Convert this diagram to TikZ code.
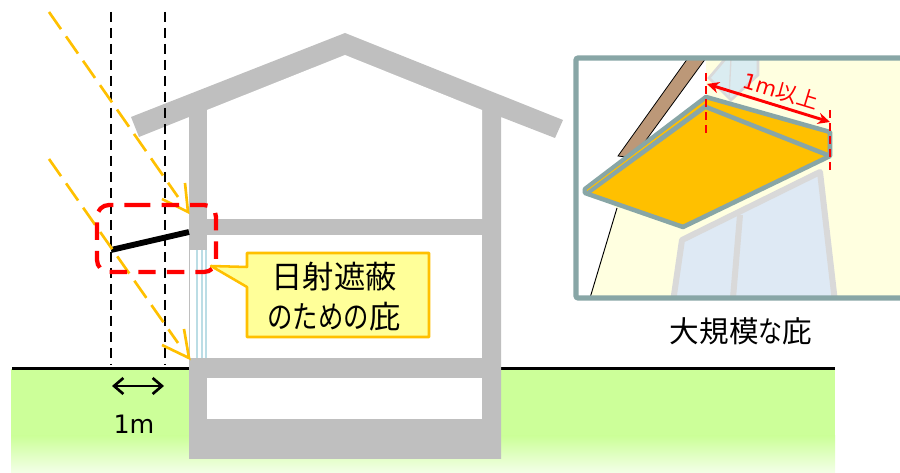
\documentclass[tikz,border=0pt]{standalone}
\usepackage{fontspec}
\usetikzlibrary{arrows.meta,shapes.geometric}
\newfontfamily\cjk{Noto Sans CJK JP}
\newfontfamily\cjkn[FakeStretch=0.81]{Noto Sans CJK JP}
\newfontfamily\lat{DejaVu Sans}
\definecolor{wall}{HTML}{BFBFBF}
\definecolor{sun}{HTML}{FFC000}
\definecolor{lawn}{HTML}{CCFF99}
\definecolor{frameg}{HTML}{88A6A6}
\definecolor{cream}{HTML}{FFFFE0}
\definecolor{winb}{HTML}{DEE9F4}
\definecolor{winf}{HTML}{D9D9D9}
\definecolor{glass}{HTML}{BBDDE5}
\definecolor{brownr}{HTML}{BC9878}
\definecolor{callout}{HTML}{FFFF99}
\tikzset{
  x=0.75pt,y=-0.75pt,
  solid wall/.style={fill=wall,draw=none},
  guide/.style={black,line width=2.2pt,dash pattern=on 7.5pt off 4.5pt},
  ray/.style={sun,line width=2pt,dash pattern=on 15.7pt off 6.6pt},
  barb/.style={sun,line width=2pt},
  redbox/.style={red,line width=3.2pt,dash pattern=on 13.1pt off 8.3pt,rounded corners=9pt},
  reddash/.style={red,line width=1.8pt,dash pattern=on 6pt off 3.8pt},
  label/.style={inner sep=0pt,align=center,text=black},
}
\begin{document}
\begin{tikzpicture}
\useasboundingbox (0,0) rectangle (900,473);
% ground
\fill[lawn] (11,369) rectangle (835,436);
\shade[top color=lawn,bottom color=lawn!22!white] (11,436) rectangle (835,473);
\coordinate (gl) at (12,368.5); \coordinate (gr) at (835,368.5);
\draw[black,line width=1.8pt] (gl) -- (gr);
% house
\fill[solid wall] (131,117) -- (345,33) -- (563,120) -- (555,138) -- (501,117) -- (501,459) -- (189,459) -- (189,358) -- (207,358) -- (207,250) -- (189,250) -- (189,117) -- (139,137) -- cycle;
\fill[white] (207,110) -- (345,55) -- (482,110) -- (482,219) -- (207,219) -- cycle;
\fill[white] (207,235) rectangle (482,358);
\fill[white] (207,378) rectangle (482,419);
% window
\fill[white] (189,250) rectangle (207,358);
\draw[wall,line width=0.6pt] (189.5,250) -- (189.5,358);
\draw[glass,line width=1.1pt] (197,250) -- (197,358);
\draw[glass,line width=0.8pt] (202,250) -- (202,358);
\draw[glass,line width=0.8pt] (206,250) -- (206,358);
% eaves
\coordinate (eo) at (111,250); \coordinate (ei) at (189,232);
\draw[black,line width=4.4pt] (eo) -- (ei);
% guides
\coordinate (g1t) at (111,12); \coordinate (g1b) at (111,365);
\coordinate (g2t) at (165,12); \coordinate (g2b) at (165,365);
\draw[guide] (g1t) -- (g1b);
\draw[guide] (g2t) -- (g2b);
% rays
\coordinate (r1s) at (49,12); \coordinate (r1e) at (178,197); \coordinate (r1t) at (188,212);
\coordinate (r2s) at (49,159); \coordinate (r2e) at (178,343); \coordinate (r2t) at (189,358);
\draw[ray] (r1s) -- (r1e);
\draw[ray] (r2s) -- (r2e);
\draw[barb,line join=miter] (185,183) -- (r1t) -- (162,199);
\draw[barb,line join=miter] (184,329) -- (r2t) -- (162,345);
% red box
\draw[redbox] (121,205) -- (216,205) -- (216,272) -- (97,272) -- (97,205) -- cycle;
% callout
\draw[sun,fill=callout,line width=1.9pt,line join=round] (247,253) -- (429,253) -- (429,337) -- (247,337) -- (247,287) -- (211,266) -- (247,267) -- cycle;
\node[label,font=\cjk\fontsize{23.5pt}{30pt}\selectfont] (callout) at (334,297) {日射遮蔽\\{\cjkn のための}庇};
% width arrow
\coordinate (wl) at (112,386); \coordinate (wr) at (164,386);
\draw[black,line width=2pt,{Straight Barb[length=7pt,width=12pt]}-{Straight Barb[length=7pt,width=12pt]}] (wl) -- (wr);
\node[label,font=\lat\fontsize{19pt}{20pt}\selectfont] (onem) at (134,424) {1m};
% inset
\begin{scope}
\clip (576,59) rectangle (900,298);
\fill[white] (576,59) rectangle (900,298);
\fill[cream] (706,58) -- (900,58) -- (900,298) -- (590,298) -- (617,208) -- (583,190) -- (706,95) -- cycle;
\draw[black,line width=0.7pt] (617,208) -- (590,298);
% roof strip
\fill[brownr,draw=black,line width=0.6pt] (688,58) -- (706,58) -- (633,158) -- (618,156) -- cycle;
% upper window
\filldraw[fill=glass!55!white,draw=winf,line width=2pt] (709,78) -- (726,58) -- (758,58) -- (758,75) -- (731,100) -- cycle;
\draw[winf,line width=1pt] (731,58) -- (729,98);
% lower window
\filldraw[fill=winb,draw=winf,line width=4.5pt,line join=round] (682,240) -- (820,172) -- (835,302) -- (673,302) -- cycle;
\draw[winf,line width=4.5pt] (740,215) -- (733,298);
% awning
\filldraw[fill=sun,draw=frameg,line width=3.4pt,line join=round] (706,97) -- (830,132) -- (830,156) -- (683,227) -- (585,193) -- (585,189) -- cycle;
\draw[frameg,line width=3.4pt] (706,107) -- (830,156);
\draw[frameg,line width=3.6pt] (706,106) -- (587,193);
\draw[frameg,line width=2pt] (706,99) -- (706,107);
\draw[sun,line width=0.7pt] (704,102.5) -- (587,190.5);
\end{scope}
\draw[frameg,line width=3.8pt,rounded corners=1.5pt] (900,58) -- (576,58) -- (576,298) -- (900,298);
% red measurement
\coordinate (m1a) at (706,73); \coordinate (m1b) at (706,134);
\coordinate (m2a) at (830,110); \coordinate (m2b) at (830,170);
\draw[reddash] (m1a) -- (m1b);
\draw[reddash] (m2a) -- (m2b);
\coordinate (aa) at (707,84); \coordinate (ab) at (830,122);
\draw[red,line width=2.2pt,{Stealth[length=9pt,width=8.5pt]}-{Stealth[length=9pt,width=8.5pt]}] (aa) -- (ab);
\node[label,text=red,rotate=-17,font=\cjk\fontsize{16pt}{18pt}\selectfont] (ml) at (781,91) {{\lat 1m}以上};
\node[label,font=\cjk\fontsize{22.2pt}{26pt}\selectfont] (cap) at (741,331) {大規模{\cjkn な}庇};
\end{tikzpicture}
\end{document}
